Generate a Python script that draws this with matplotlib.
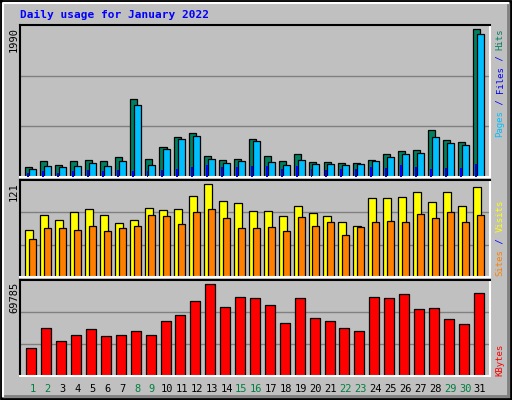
import matplotlib
matplotlib.use("Agg")
import matplotlib.pyplot as plt
import numpy as np

days = list(range(1, 32))
weekend = [1, 2, 8, 9, 15, 16, 22, 23, 29, 30]
hits = [136,214,162,214,227,214,267,1015,240,398,529,582,280,227,240,503,280,214,306,201,201,188,188,227,306,345,359,621,490,464,1933]
files = [109,149,136,149,188,149,214,949,162,372,503,542,240,188,214,477,201,162,227,175,175,162,175,214,267,306,319,529,450,424,1867]
pages = [57,83,57,83,96,83,96,83,83,96,109,136,162,136,136,149,149,109,149,109,96,109,109,136,122,162,136,109,122,122,175]
visits = [59,77,71,81,85,77,67,71,86,83,85,101,116,95,92,82,82,76,88,80,76,68,63,98,98,100,106,93,106,88,112]
sites = [48,61,61,59,64,57,61,64,77,76,66,81,85,73,61,61,62,58,75,64,68,53,62,68,70,68,78,73,81,68,77]
kbytes = [20081,34776,25224,29630,34040,28898,29630,32571,29630,39918,44327,54610,67100,50200,57550,56820,51670,38450,56820,42120,39918,34776,32571,57550,56820,59750,48730,49470,41390,37710,60490]
max_hits, max_visits, max_kb = 1990, 121, 69785

BG = "#C0C0C0"
fig = plt.figure(figsize=(5.12, 4.0), dpi=100, facecolor=BG)
W, H = 512, 400
def ax_at(x0, y0, x1, y1):
    ax = fig.add_axes([x0/W, 1-y1/H, (x1-x0)/W, (y1-y0)/H])
    ax.set_facecolor(BG)
    ax.set_xlim(0.15, 31.67)
    ax.set_xticks([]); ax.set_yticks([])
    for s in ("left", "top"):
        ax.spines[s].set_color("black")
    for s in ("right", "bottom"):
        ax.spines[s].set_color("white")
    for sp in ax.spines.values():
        sp.set_linewidth(1.5)
    return ax

x = np.array(days, dtype=float)
kw = dict(edgecolor="black", linewidth=0.9, align="center")

a1 = ax_at(20, 25, 490, 177)
a1.set_ylim(0, max_hits)
for g in (max_hits/3, 2*max_hits/3):
    a1.axhline(g, color="#808080", lw=1, zorder=0)
a1.bar(x-0.26, hits, width=0.47, color="#008060", **kw)
a1.bar(x-0.3, pages, width=0.13, color="#0000FF", linewidth=0, zorder=3)
a1.bar(x, files, width=0.47, color="#00BFFF", **kw)

a2 = ax_at(20, 180, 490, 277)
a2.set_ylim(0, max_visits)
for g in (max_visits/3, 2*max_visits/3):
    a2.axhline(g, color="#808080", lw=1, zorder=0)
a2.bar(x-0.23, visits, width=0.54, color="#FFFF00", **kw)
a2.bar(x, sites, width=0.47, color="#FF8000", **kw)

a3 = ax_at(20, 280, 490, 376)
a3.set_ylim(0, max_kb)
for g in (max_kb/3, 2*max_kb/3):
    a3.axhline(g, color="#808080", lw=1, zorder=0)
a3.bar(x-0.09, kbytes, width=0.67, color="#FF0000", **kw)

mono = "DejaVu Sans Mono"
fig.text(20/W, 1-15/H, "Daily usage for January 2022", color="#0000FF",
         family=mono, weight="bold", fontsize=8, va="center", ha="left")
for d in days:
    xp = (20 + (d-0.15)/(31.67-0.15)*470)/W
    fig.text(xp, 1-389/H, str(d), ha="center", va="center", family=mono,
             fontsize=7.5, color="#008040" if d in weekend else "black")

for lab, ytop in ((str(max_hits), 27), (str(max_visits), 182), (str(max_kb), 282)):
    fig.text(14/W, 1-ytop/H, lab, rotation=90, ha="center", va="top",
             family=mono, fontsize=7.5, color="black")

def vlabel(parts, ybot):
    step = 5.45
    y = ybot
    for txt, col in parts:
        fig.text(500/W, 1-y/H, txt, rotation=90, ha="center", va="bottom",
                 family=mono, fontsize=6.5, color=col)
        y -= step*len(txt)
vlabel([("Pages", "#00BFFF"), (" / ", "#0000FF"), ("Files", "#0000FF"),
        (" / ", "#0000FF"), ("Hits", "#008060")], 137)
vlabel([("Sites", "#FF8000"), (" / ", "#0000FF"), ("Visits", "#FFFF00")], 276)
vlabel([("KBytes", "#FF0000")], 376)

# outer frame
fr = fig.add_axes([0, 0, 1, 1], facecolor="none")
fr.set_xlim(0, W); fr.set_ylim(H, 0); fr.axis("off")
fr.plot([1, W-1, W-1, 1, 1], [1, 1, H-1, H-1, 1], color="black", lw=2)
fr.plot([3, W-4], [H-4, H-4], color="#808080", lw=2)
fr.plot([W-4, W-4], [3, H-4], color="#808080", lw=2)
fr.plot([3, 3, W-4], [H-4, 3, 3], color="white", lw=1.5)

fig.savefig("out.png", dpi=100, facecolor=BG)
